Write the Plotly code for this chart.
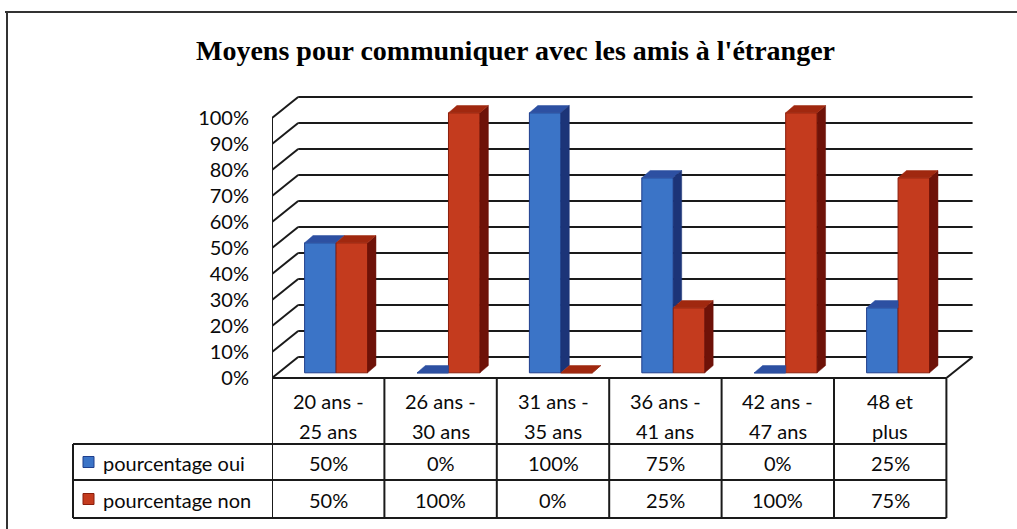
import plotly.graph_objects as go

# ---------------- data ----------------
title_text = "Moyens pour communiquer avec les amis à l'étranger"
categories = ["20 ans -<br>25 ans", "26 ans -<br>30 ans", "31 ans -<br>35 ans",
              "36 ans -<br>41 ans", "42 ans -<br>47 ans", "48 et<br>plus"]
series_names = ["pourcentage oui", "pourcentage non"]
oui = [0.50, 0.00, 1.00, 0.75, 0.00, 0.25]
non = [0.50, 1.00, 0.00, 0.25, 1.00, 0.75]
tick_vals = [0.0, 0.1, 0.2, 0.3, 0.4, 0.5, 0.6, 0.7, 0.8, 0.9, 1.0]
tick_text = ["0%", "10%", "20%", "30%", "40%", "50%", "60%", "70%", "80%", "90%", "100%"]
cell_text_oui = ["50%", "0%", "100%", "75%", "0%", "25%"]
cell_text_non = ["50%", "100%", "0%", "25%", "100%", "75%"]

# ---------------- layout geometry (pixels of the reference) ----------------
W, H = 1017, 529          # reference size
FIG_H = 540               # rendered height (the capture is rescaled to 529)
X0, UX = 272, 112.4       # left edge of floor, px per category
Y0, UY = 378, 260         # floor front y, px per unit value
XR = [-0.5, 5.75]
YR = [0.0, 1.1]

def px(x):
    return x / W

def py(y):
    return 1 - y / H

WDX, WDY = 0.233, 0.081     # wall depth offset (data units)
BASE = 0.02
BW = 0.28
OFF = [-0.21, 0.07]
DDX, DDY = 0.075, 0.028     # bar depth

FONT = "Lato"
LINE = "#1a1a1a"
TXT = "#0a0a0a"

colors_front = ["#3B74C7", "#C43B1E"]
colors_edge = ["#1F3E8C", "#8A1E0C"]
colors_side = ["#1C3478", "#6E1208"]
colors_top = ["#2D50A2", "#A0280F"]

n = len(categories)
fig = go.Figure()

series = [oui, non]
for s in range(2):
    fig.add_trace(go.Bar(
        x=list(range(n)), y=series[s], base=BASE, width=BW, offset=OFF[s],
        marker=dict(color=colors_front[s], line=dict(color=colors_edge[s], width=1)),
        name=series_names[s], showlegend=False, hoverinfo="skip"))

shapes = []

# back wall gridlines, left wall diagonals
for t in tick_vals:
    shapes.append(dict(type="line", xref="x", yref="y", layer="below",
                       x0=-0.5 + WDX, y0=t + WDY, x1=n - 0.5 + WDX, y1=t + WDY,
                       line=dict(color=LINE, width=2)))
    shapes.append(dict(type="line", xref="x", yref="y", layer="below",
                       x0=-0.5, y0=t, x1=-0.5 + WDX, y1=t + WDY,
                       line=dict(color=LINE, width=2)))
# left front vertical edge
shapes.append(dict(type="line", xref="x", yref="y", layer="below",
                   x0=-0.5, y0=0, x1=-0.5, y1=1, line=dict(color=LINE, width=2)))
# floor right diagonal
shapes.append(dict(type="line", xref="x", yref="y", layer="below",
                   x0=n - 0.5, y0=0, x1=n - 0.5 + WDX, y1=WDY,
                   line=dict(color=LINE, width=2)))


def poly(pts, color):
    d = "M " + " L ".join(f"{x},{y}" for x, y in pts) + " Z"
    return dict(type="path", xref="x", yref="y", layer="above", path=d,
                fillcolor=color, line=dict(color=color, width=0.5))

for i in range(n):
    bv, rv = oui[i], non[i]
    # blue bar faces
    xl = i + OFF[0]
    xr = xl + BW
    t = BASE + bv
    if rv > bv:
        shapes.append(poly([(xl, t), (xr, t), (xr, t + DDY), (xl + DDX, t + DDY)], colors_top[0]))
    else:
        shapes.append(poly([(xl, t), (xr, t), (xr + DDX, t + DDY), (xl + DDX, t + DDY)], colors_top[0]))
        if bv > rv:
            lo = BASE + rv
            shapes.append(poly([(xr, lo), (xr, t), (xr + DDX, t + DDY), (xr + DDX, lo + DDY)], colors_side[0]))
    # red bar faces
    xl = i + OFF[1]
    xr = xl + BW
    t = BASE + rv
    shapes.append(poly([(xr, BASE), (xr, t), (xr + DDX, t + DDY), (xr + DDX, BASE + DDY)], colors_side[1]))
    shapes.append(poly([(xl, t), (xr, t), (xr + DDX, t + DDY), (xl + DDX, t + DDY)], colors_top[1]))

# ---------------- data table ----------------
TY_TOP, TY_H, TY_R1, TY_BOT = 378, 444, 480, 518
LEG_X = 73
shapes.append(dict(type="line", xref="x", yref="paper", x0=-0.5, x1=n - 0.5,
                   y0=py(TY_TOP), y1=py(TY_TOP), line=dict(color=LINE, width=2)))
for yy in [TY_H, TY_R1, TY_BOT]:
    shapes.append(dict(type="line", xref="paper", yref="paper", x0=px(LEG_X), x1=px(X0 + n * UX),
                       y0=py(yy), y1=py(yy), line=dict(color=LINE, width=2)))
for k in range(n + 1):
    shapes.append(dict(type="line", xref="x", yref="paper", x0=k - 0.5, x1=k - 0.5,
                       y0=py(TY_TOP), y1=py(TY_BOT), line=dict(color=LINE, width=2)))
shapes.append(dict(type="line", xref="paper", yref="paper", x0=px(LEG_X), x1=px(LEG_X),
                   y0=py(TY_H), y1=py(TY_BOT), line=dict(color=LINE, width=2)))
# legend keys
for s, (yc) in enumerate([(TY_H + TY_R1) / 2, (TY_R1 + TY_BOT) / 2]):
    shapes.append(dict(type="rect", xref="paper", yref="paper",
                       x0=px(83), x1=px(94), y0=py(yc - 5.5), y1=py(yc + 5.5),
                       fillcolor=colors_front[s], line=dict(color=colors_edge[s], width=1)))

# outer frame
shapes.append(dict(type="line", xref="paper", yref="paper", x0=px(5), x1=1,
                   y0=py(12), y1=py(12), line=dict(color="#333333", width=2)))
shapes.append(dict(type="line", xref="paper", yref="paper", x0=px(7), x1=px(7),
                   y0=py(12), y1=0, line=dict(color="#333333", width=2)))

annotations = []
tf = dict(family=FONT, size=20, color=TXT)
for i, c in enumerate(categories):
    lines = c.split("<br>")
    for j, ln in enumerate(lines):
        annotations.append(dict(text=ln, xref="x", yref="paper", x=i, y=py(401 + 30 * j),
                                showarrow=False, font=tf, xanchor="center", yanchor="middle"))
    annotations.append(dict(text=cell_text_oui[i], xref="x", yref="paper", x=i,
                            y=py(463), showarrow=False, font=tf,
                            xanchor="center", yanchor="middle"))
    annotations.append(dict(text=cell_text_non[i], xref="x", yref="paper", x=i,
                            y=py(500), showarrow=False, font=tf,
                            xanchor="center", yanchor="middle"))
for s, yc in enumerate([463, 500]):
    annotations.append(dict(text=series_names[s], xref="paper", yref="paper", x=px(101),
                            y=py(yc), showarrow=False, font=tf,
                            xanchor="left", yanchor="middle"))
annotations.append(dict(text="<b>" + title_text + "</b>", xref="paper", yref="paper",
                        x=px(515), y=py(50), showarrow=False,
                        font=dict(family="Liberation Serif", size=28, color="#000000"),
                        xanchor="center", yanchor="middle"))

fig.update_layout(
    width=W, height=FIG_H,
    margin=dict(l=0, r=0, t=0, b=0),
    paper_bgcolor="white", plot_bgcolor="rgba(0,0,0,0)",
    barmode="overlay",
    xaxis=dict(range=XR, domain=[px(X0), px(X0 + (XR[1] - XR[0]) * UX)],
               visible=False, fixedrange=True),
    yaxis=dict(range=YR, domain=[py(Y0), py(Y0 - (YR[1] - YR[0]) * UY)],
               tickvals=tick_vals, ticktext=tick_text, ticks="",
               showgrid=False, zeroline=False, showline=False,
               ticklabelstandoff=22,
               tickfont=dict(family=FONT, size=20, color=TXT), fixedrange=True),
    shapes=shapes, annotations=annotations,
)

fig.write_html(
    "out.html",
    config={"displayModeBar": False, "staticPlot": True},
    post_script="document.body.style.margin='0';",
)
